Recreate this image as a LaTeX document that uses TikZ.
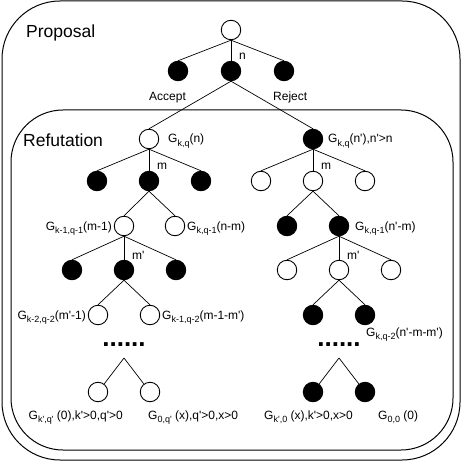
\documentclass[tikz,border=0pt]{standalone}
\usepackage{fontspec}
\newfontfamily\dfont{Liberation Sans}
\newcommand\sbs[1]{\raisebox{-0.28em}{\fontsize{9}{10}\selectfont #1}}
\begin{document}
\begin{tikzpicture}[x=1pt,y=-1pt,
  wn/.style={circle,draw,line width=0.9pt,fill=white,minimum size=19.5pt,inner sep=0pt},
  bn/.style={wn,fill=black},
  edge/.style={line width=0.7pt},
  lbl/.style={font=\dfont\fontsize{12}{14}\selectfont,inner sep=0pt},
  ttl/.style={font=\dfont\fontsize{17.5}{20}\selectfont,inner sep=0pt},
  dots/.style={font=\dfont\bfseries\fontsize{26}{26}\selectfont,inner sep=0pt,anchor=base},
  frame/.style={draw,line width=1pt}]
\useasboundingbox (0,0) rectangle (462,462);
% frames
\draw[frame,rounded corners=58pt] (2,1) rectangle (460,460);
\draw[frame,rounded corners=52pt] (11,110) rectangle (453,450);
% titles
\node[ttl,anchor=base west] (tprop) at (26,38) {Proposal};
\node[ttl,anchor=base west] (tref) at (23,147) {Refutation};
% proposal tree
\node[wn] (p0) at (231,30) {};
\node[bn] (p1) at (178,71) {};
\node[bn] (p2) at (231,71) {};
\node[bn] (p3) at (284,71) {};
\draw[edge] (p0.south) -- (p1.north);
\draw[edge] (p0.south) -- (p2.north);
\draw[edge] (p0.south) -- (p3.north);
\node[lbl,anchor=base west] (ln) at (239,60) {n};
\node[lbl,anchor=base west] (lacc) at (149,101) {Accept};
\node[lbl,anchor=base west] (lrej) at (273,101) {Reject};
% left subtree
\node[wn] (lr) at (149,139) {};
\node[bn] (l21) at (97,181) {};
\node[bn] (l22) at (149,181) {};
\node[bn] (l23) at (201,181) {};
\node[wn] (l31) at (124,226) {};
\node[wn] (l32) at (175,226) {};
\node[bn] (l41) at (72,270) {};
\node[bn] (l42) at (124,270) {};
\node[bn] (l43) at (176,270) {};
\node[wn] (l51) at (98,315) {};
\node[wn] (l52) at (150,315) {};
\coordinate (la) at (124,358);
\node[wn] (l61) at (98,392) {};
\node[wn] (l62) at (150,392) {};
% right subtree
\node[bn] (rr) at (313,139) {};
\node[wn] (r21) at (261,181) {};
\node[wn] (r22) at (313,181) {};
\node[wn] (r23) at (365,181) {};
\node[bn] (r31) at (287,226) {};
\node[bn] (r32) at (339,226) {};
\node[wn] (r41) at (287,270) {};
\node[wn] (r42) at (339,270) {};
\node[wn] (r43) at (391,270) {};
\node[bn] (r51) at (313,315) {};
\node[bn] (r52) at (365,315) {};
\coordinate (ra) at (339,358);
\node[bn] (r61) at (313,392) {};
\node[bn] (r62) at (365,392) {};
% edges
\draw[edge] (p2.south) -- (lr.north);
\draw[edge] (p2.south) -- (rr.north);
\foreach \c in {l21,l22,l23} \draw[edge] (lr.south) -- (\c.north);
\foreach \c in {l31,l32} \draw[edge] (l22.south) -- (\c.north);
\foreach \c in {l41,l42,l43} \draw[edge] (l31.south) -- (\c.north);
\foreach \c in {l51,l52} \draw[edge] (l42.south) -- (\c.north);
\foreach \c in {l61,l62} \draw[edge] (la) -- (\c);
\foreach \c in {r21,r22,r23} \draw[edge] (rr.south) -- (\c.north);
\foreach \c in {r31,r32} \draw[edge] (r22.south) -- (\c.north);
\foreach \c in {r41,r42,r43} \draw[edge] (r32.south) -- (\c.north);
\foreach \c in {r51,r52} \draw[edge] (r42.south) -- (\c.north);
\foreach \c in {r61,r62} \draw[edge] (ra) -- (\c);
% labels
\node[lbl,anchor=base west] (g1) at (168,143) {G\sbs{k,q}(n)};
\node[lbl,anchor=base west] (g2) at (328,143) {G\sbs{k,q}(n'),n'>n};
\node[lbl,anchor=base west] (lm1) at (157,170) {m};
\node[lbl,anchor=base west] (lm2) at (321,170) {m};
\node[lbl,anchor=base east] (g3) at (112,230) {G\sbs{k-1,q-1}(m-1)};
\node[lbl,anchor=base west] (g4) at (187,230) {G\sbs{k,q-1}(n-m)};
\node[lbl,anchor=base west] (g5) at (355,230) {G\sbs{k,q-1}(n'-m)};
\node[lbl,anchor=base west] (lm3) at (132,259) {m'};
\node[lbl,anchor=base west] (lm4) at (347,259) {m'};
\node[lbl,anchor=base east] (g6) at (86,319) {G\sbs{k-2,q-2}(m'-1)};
\node[lbl,anchor=base west] (g7) at (162,319) {G\sbs{k-1,q-2}(m-1-m')};
\node[lbl,anchor=base west] (g8) at (366,336) {G\sbs{k,q-2}(n'-m-m')};
\node[dots] (d1) at (124,346) {......};
\node[dots] (d2) at (339,346) {......};
\node[lbl,anchor=base east] (g9) at (123,419) {G\sbs{k',q'} (0),k'>0,q'>0};
\node[lbl,anchor=base west] (g10) at (148,419) {G\sbs{0,q'} (x),q'>0,x>0};
\node[lbl,anchor=base west] (g11) at (264,419) {G\sbs{k',0} (x),k'>0,x>0};
\node[lbl,anchor=base west] (g12) at (378,419) {G\sbs{0,0} (0)};
\end{tikzpicture}
\end{document}
